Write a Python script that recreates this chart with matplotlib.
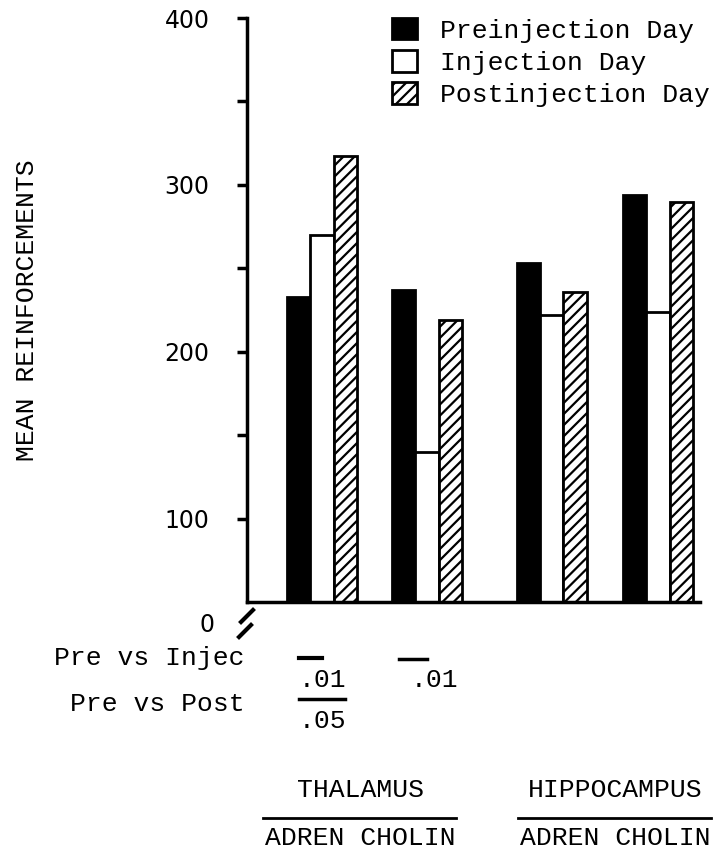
import matplotlib.pyplot as plt
import matplotlib.transforms as mtransforms

# data
groups = ['THALAMUS ADREN', 'THALAMUS CHOLIN', 'HIPPOCAMPUS ADREN', 'HIPPOCAMPUS CHOLIN']
pre = [233, 237, 253, 294]
inj = [270, 140, 222, 224]
post = [317, 219, 236, 290]
series = ['Preinjection Day', 'Injection Day', 'Postinjection Day']
yticks = [100, 200, 300, 400]
minor_ticks = [150, 250, 350]

plt.rcParams['hatch.linewidth'] = 1.6
mono = 'Liberation Mono'

W, H = 717, 852
fig = plt.figure(figsize=(W / 100, H / 100), dpi=100)
ax = fig.add_axes([247 / W, 1 - 602 / H, 453 / W, 584 / H])

# group centres (pairs sit a little closer inside a region)
x = [0, 1, 2.19, 3.2]
w = 0.22
b1 = ax.bar([v - w for v in x], pre, w, color='black', edgecolor='black', linewidth=2)
b2 = ax.bar(x, inj, w, color='white', edgecolor='black', linewidth=2)
b3 = ax.bar([v + w for v in x], post, w, color='white', edgecolor='black',
            linewidth=2, hatch='///')

ax.set_ylim(50, 400)
ax.set_xlim(-0.714, 3.6)
ax.set_yticks(yticks)
ax.set_yticks(minor_ticks, minor=True)
ax.set_xticks([])
for s in ['top', 'right']:
    ax.spines[s].set_visible(False)
ax.spines['left'].set_linewidth(2.5)
ax.spines['bottom'].set_linewidth(2.5)
ax.tick_params(axis='y', which='both', direction='out', length=7, width=2.5)
ax.tick_params(axis='y', which='major', pad=20, labelsize=17)

ax.set_ylabel('MEAN REINFORCEMENTS', family=mono, fontsize=19)
ax.yaxis.set_label_coords(-0.46, 0.5)

leg = ax.legend([b1, b2, b3], series, loc='upper left', bbox_to_anchor=(0.32, 1.0),
                frameon=False, prop={'family': mono, 'size': 19},
                handlelength=0.95, handleheight=0.87, handletextpad=0.87,
                labelspacing=0.28, borderpad=0, borderaxespad=0)

# axis break and zero label
def fx(px):
    return px / W

def fy(py):
    return 1 - py / H

fig.text(fx(207), fy(625), '0', fontsize=17, ha='center', va='center')
fig.add_artist(plt.Line2D([fx(241), fx(253)], [fy(622), fy(610)], color='black', lw=3))
fig.add_artist(plt.Line2D([fx(239), fx(251)], [fy(637), fy(625)], color='black', lw=3))

# significance notes
tr = mtransforms.blended_transform_factory(ax.transData, fig.transFigure)
fig.text(fx(245), fy(658), 'Pre vs Injec', family=mono, fontsize=19, ha='right', va='center')
fig.text(fx(245), fy(704), 'Pre vs Post', family=mono, fontsize=19, ha='right', va='center')
ax.plot([x[0] - w * 1.0, x[0]], [fy(658), fy(658)], color='black', lw=3,
        transform=tr, clip_on=False)
fig.text(fx(299), fy(680), '.01', family=mono, fontsize=19, ha='left', va='center')
ax.plot([x[1] - w * 1.2, x[1]], [fy(659), fy(659)], color='black', lw=2.5,
        transform=tr, clip_on=False)
fig.text(fx(411), fy(680), '.01', family=mono, fontsize=19, ha='left', va='center')
ax.plot([x[0] - w * 1.0, x[0] + w * 1.0], [fy(699), fy(699)], color='black', lw=2.5,
        transform=tr, clip_on=False)
fig.text(fx(299), fy(721), '.05', family=mono, fontsize=19, ha='left', va='center')

# region labels
for cx, name in [(360, 'THALAMUS'), (615, 'HIPPOCAMPUS')]:
    fig.text(fx(cx), fy(790), name, family=mono, fontsize=19, ha='center', va='center')
    fig.add_artist(plt.Line2D([fx(cx - 97), fx(cx + 96)], [fy(818), fy(818)],
                              color='black', lw=2))
    fig.text(fx(cx), fy(838), 'ADREN CHOLIN', family=mono, fontsize=19,
             ha='center', va='center')

fig.savefig('out.png', dpi=100)
